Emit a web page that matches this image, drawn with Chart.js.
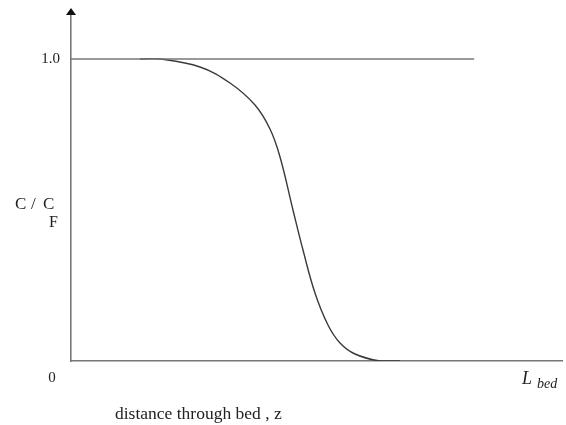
<!DOCTYPE html>
<html>
<head>
<meta charset="utf-8">
<script src="https://cdn.jsdelivr.net/npm/chart.js@4/dist/chart.umd.min.js"></script>
<style>
    html, body { margin: 0; padding: 0; background: #fff; }
    canvas { display: block; }
</style>
</head>
<body>
<canvas id="breakthrough" width="566" height="425"></canvas>
<script>
// concentration profile along the bed, z as a fraction of the axis length
var profileZ = [0.1405, 0.1813, 0.2627, 0.3238, 0.3747, 0.4053, 0.4257, 0.4521, 0.4725, 0.4969, 0.5234, 0.5479, 0.5784, 0.6293, 0.6701];
var profileC = [1.0000, 1.0000, 0.9735, 0.9205, 0.8477, 0.7682, 0.6755, 0.5000, 0.3675, 0.2252, 0.1192, 0.0596, 0.0232, 0.0000, 0.0000];

// feed level C / CF = 1.0 and where that line stops
var feedZ = [0.0, 0.821];
var feedC = [1.0, 1.0];

var yTickLabels = ["1.0", "0"];

var serif = "'Liberation Serif', 'DejaVu Serif', serif";

function toPoints(xs, ys) {
    return xs.map(function (x, i) {
        return { x: x, y: ys[i] };
    });
}

// axis arrow and hand-placed labels, drawn on top of the chart
var labelsPlugin = {
    id: "bedLabels",
    afterDraw: function (chart) {
        var ctx = chart.ctx;
        var xs = chart.scales.x;
        var ys = chart.scales.y;
        var x0 = xs.getPixelForValue(0);
        var y0 = ys.getPixelForValue(0);
        var yTop = chart.chartArea.top;

        ctx.save();

        // arrow head on the y axis
        ctx.fillStyle = "#111";
        ctx.beginPath();
        ctx.moveTo(x0, yTop - 3);
        ctx.lineTo(x0 - 5, yTop + 4);
        ctx.lineTo(x0 + 5, yTop + 4);
        ctx.closePath();
        ctx.fill();

        ctx.fillStyle = "#222";
        ctx.font = "15px " + serif;
        ctx.textBaseline = "middle";

        ctx.textAlign = "right";
        ctx.fillText(yTickLabels[0], x0 - 11, ys.getPixelForValue(1.0));

        ctx.textAlign = "center";
        ctx.fillText(yTickLabels[1], x0 - 19, y0 + 17);

        // C / CF label
        ctx.textAlign = "left";
        ctx.font = "17px " + serif;
        ctx.fillText("C", 15, 205);
        ctx.fillText("/", 31, 205);
        ctx.fillText("C", 43, 205);
        ctx.font = "16px " + serif;
        ctx.fillText("F", 49, 223);

        // L bed
        ctx.font = "italic 18px " + serif;
        ctx.textBaseline = "alphabetic";
        ctx.fillText("L", 522, 384);
        ctx.font = "italic 14px " + serif;
        ctx.fillText("bed", 537, 388);

        // axis title
        ctx.font = "17.5px " + serif;
        ctx.textBaseline = "middle";
        ctx.fillText("distance through bed , z", 115, 414);

        ctx.restore();
    }
};

new Chart(document.getElementById("breakthrough"), {
    type: "line",
    data: {
        datasets: [
            {
                data: toPoints(feedZ, feedC),
                borderColor: "#777",
                borderWidth: 1.6,
                pointRadius: 0,
                tension: 0
            },
            {
                data: toPoints(profileZ, profileC),
                borderColor: "#3a3a3a",
                borderWidth: 1.4,
                pointRadius: 0,
                tension: 0.4
            }
        ]
    },
    options: {
        responsive: false,
        animation: false,
        events: [],
        layout: {
            padding: { left: 71, right: 4, top: 11, bottom: 64 }
        },
        plugins: {
            legend: { display: false },
            tooltip: { enabled: false }
        },
        scales: {
            x: {
                type: "linear",
                min: 0,
                max: 1,
                ticks: { display: false },
                grid: { display: false, drawTicks: false },
                border: { display: true, color: "#777", width: 1.6 }
            },
            y: {
                type: "linear",
                min: 0,
                max: 350 / 302,
                ticks: { display: false },
                grid: { display: false, drawTicks: false },
                border: { display: true, color: "#777", width: 1.6 }
            }
        }
    },
    plugins: [labelsPlugin]
});
</script>
</body>
</html>
